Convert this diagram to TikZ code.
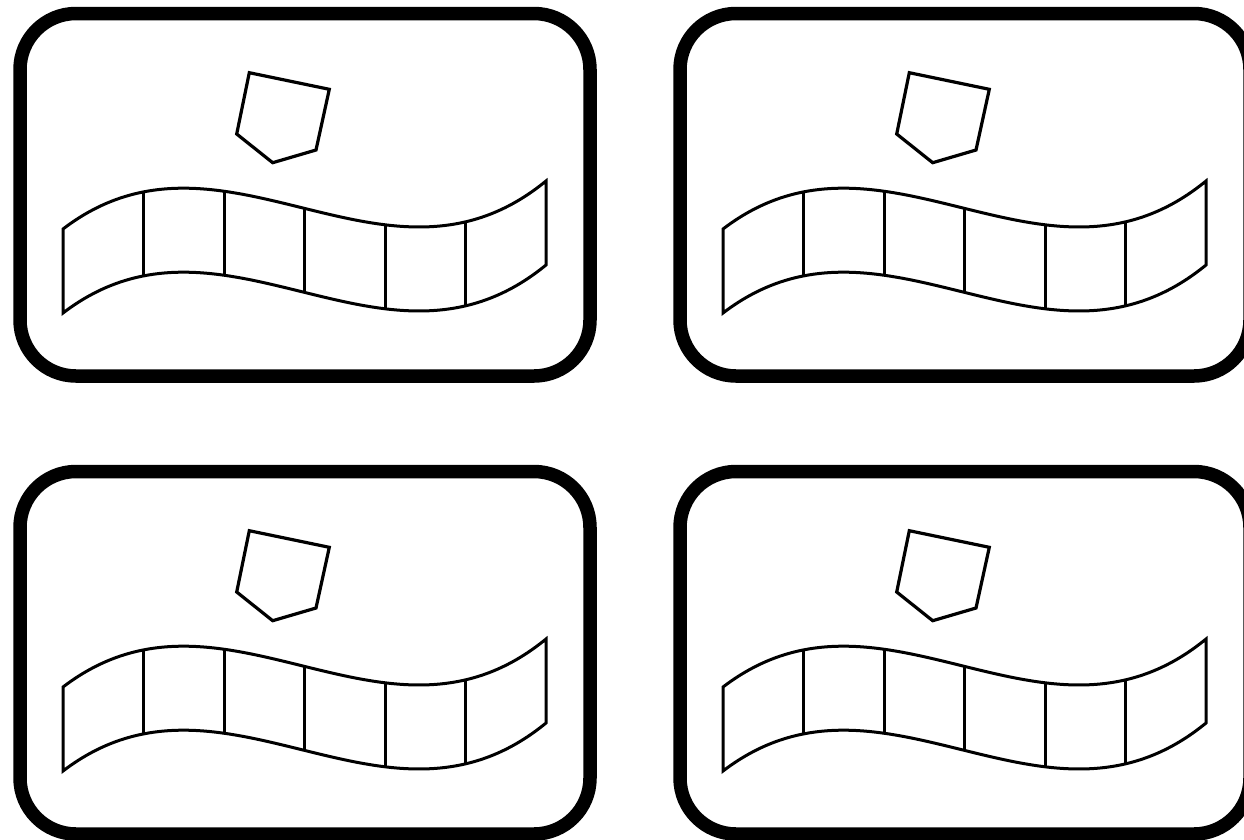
\documentclass[tikz,border=0pt]{standalone}
\begin{document}
\begin{tikzpicture}[x=1pt, y=-1pt,
  frame/.style={line width=13.5pt, rounded corners=56pt},
  tape/.style={line width=3pt},
  shield/.style={line width=3.2pt}]
  \useasboundingbox (0,0) rectangle (1244,839);
  \clip (0,0) rectangle (1244,839);
  % четыре одинаковые карточки
  \foreach \dx/\dy in {0/0, 660/0, 0/458, 660/458} {
    \begin{scope}[shift={(\dx,\dy)}]
      % рамка
      \draw[frame] (20,13.5) rectangle (590,376);
      % пятиугольник
      \draw[shield] (249.3,72.7) -- (329.3,89.3) -- (316,150)
        -- (272.7,162.7) -- (236.7,134) -- cycle;
      % лента
      \draw[tape] (63,229) .. controls (224,106) and (385,313) .. (546,181)
        -- (546,265) .. controls (385,397) and (224,190) .. (63,313) -- cycle;
      \path (63,229) .. controls (224,106) and (385,313) .. (546,181)
        \foreach \k in {1,...,5} { coordinate[pos=\k/6] (t\k) };
      \path (63,313) .. controls (224,190) and (385,397) .. (546,265)
        \foreach \k in {1,...,5} { coordinate[pos=\k/6] (b\k) };
      \foreach \k in {1,...,5} \draw[tape] (t\k) -- (b\k);
    \end{scope}
  }
\end{tikzpicture}
\end{document}
